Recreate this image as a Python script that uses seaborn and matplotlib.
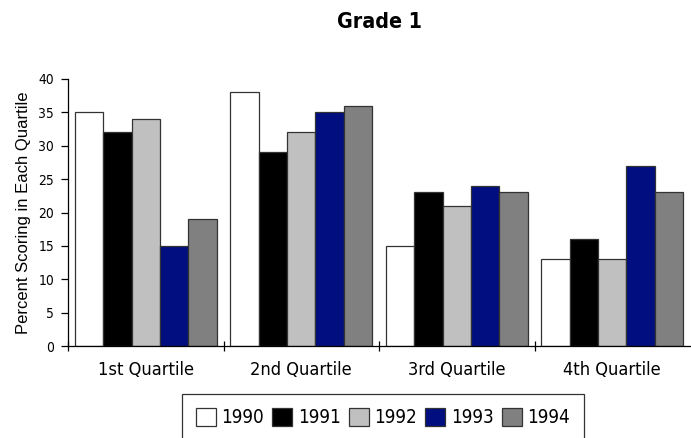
import pandas as pd
import matplotlib
matplotlib.use("Agg")
import matplotlib.pyplot as plt
from matplotlib import font_manager
from matplotlib.ticker import FixedLocator
import seaborn as sns

quartiles = ['1st Quartile', '2nd Quartile', '3rd Quartile', '4th Quartile']
years = ['1990', '1991', '1992', '1993', '1994']
y1990 = [35, 38, 15, 13]
y1991 = [32, 29, 23, 16]
y1992 = [34, 32, 21, 13]
y1993 = [15, 35, 24, 27]
y1994 = [19, 36, 23, 23]
colors = ['#ffffff', '#000000', '#c0c0c0', '#000e80', '#808080']

rows = []
for yr, vals in zip(years, [y1990, y1991, y1992, y1993, y1994]):
    for q, v in zip(quartiles, vals):
        rows.append({'Quartile': q, 'Year': yr, 'Percent': v})
df = pd.DataFrame(rows)

# a narrow face, if one is on the machine
fonts = font_manager.fontManager.ttflist
names = {f.name for f in fonts}
cond = [f for f in fonts if 'condensed' in f.fname.lower() or 'narrow' in f.fname.lower()]
if 'Liberation Sans Narrow' in names:
    fam, stretch, scale = 'Liberation Sans Narrow', 'normal', 1.0
elif cond:
    fam, stretch, scale = cond[0].name, 'condensed', 0.9
else:
    fam, stretch, scale = 'Liberation Sans', 'normal', 0.8

sns.set_style('ticks')
plt.rcParams['font.family'] = [fam, 'DejaVu Sans']
plt.rcParams['font.stretch'] = stretch
for k in ['text.color', 'axes.labelcolor', 'xtick.color', 'ytick.color']:
    plt.rcParams[k] = 'black'

fig = plt.figure(figsize=(6.91, 4.38), dpi=100)
ax = fig.add_axes([68 / 691, 92 / 438, 622 / 691, 267 / 438])

sns.barplot(data=df, x='Quartile', y='Percent', hue='Year', order=quartiles,
            hue_order=years, palette=colors, saturation=1, width=0.91, gap=0,
            edgecolor='#333333', linewidth=0.9, errorbar=None, ax=ax)

ax.set_xlim(-0.5, 3.5)
ax.set_ylim(0, 40)
ax.set_yticks(range(0, 41, 5))
ax.tick_params(axis='y', direction='out', length=5, width=0.9, pad=5,
               labelsize=11 * scale)
ax.tick_params(axis='x', which='major', length=0, pad=11, labelsize=14.5 * scale)
ax.xaxis.set_minor_locator(FixedLocator([-0.5, 0.5, 1.5, 2.5]))
ax.tick_params(axis='x', which='minor', direction='inout', length=7, width=0.9)
sns.despine(ax=ax)
for s in ['left', 'bottom']:
    ax.spines[s].set_color('black')
    ax.spines[s].set_linewidth(0.9)

ax.set_xlabel('')
ax.set_ylabel('Percent Scoring in Each Quartile', fontsize=12,
              family=['Liberation Sans', 'DejaVu Sans'], fontstretch='normal')
ax.yaxis.set_label_coords(-0.06, 0.5)

fig.text(379 / 691, 1 - 22 / 438, 'Grade 1', ha='center', va='center',
         fontsize=17 * scale, fontweight='bold')

handles, labels = ax.get_legend_handles_labels()
ax.get_legend().remove()
leg = fig.legend(handles, labels, loc='upper center',
                 bbox_to_anchor=(383 / 691, 1 - 394 / 438), ncol=5,
                 fontsize=15 * scale, frameon=True, fancybox=False,
                 edgecolor='black', handlelength=0.95 / scale,
                 handleheight=0.95 / scale, handletextpad=0.3,
                 columnspacing=0.45, borderpad=0.75, borderaxespad=0)
leg.get_frame().set_linewidth(0.9)

fig.savefig('out.png', dpi=100)
